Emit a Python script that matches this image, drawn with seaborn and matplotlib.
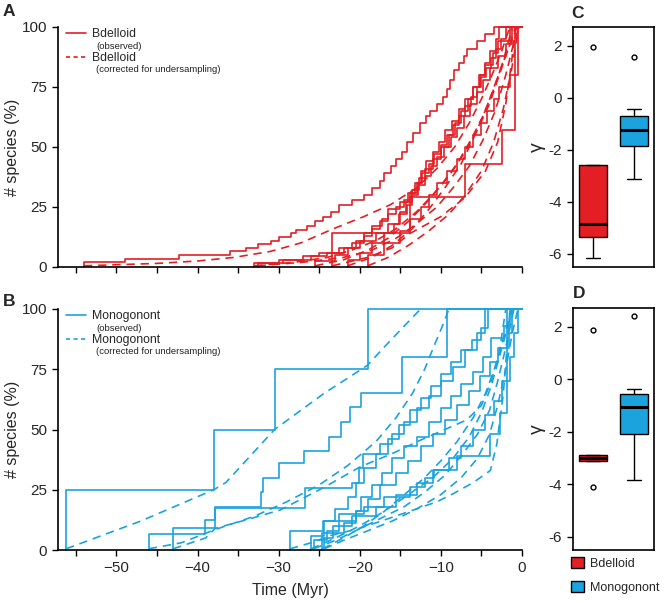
import matplotlib
matplotlib.use("Agg")
import matplotlib.pyplot as plt
from matplotlib.lines import Line2D
from matplotlib.patches import Patch
import numpy as np
import pandas as pd
import seaborn as sns

sns.set_theme(style="ticks")
plt.rcParams['font.family'] = ['Liberation Sans', 'DejaVu Sans']

RED = '#E31E24'
BLUE = '#1BA3DE'

# -----------------------------
# Lineage-through-time data (time in Myr, % species)
# -----------------------------
# Bdelloid, observed (step curves)
bd_obs1 = [(-54, 0), (-54, 2), (-49, 3.5), (-42.3, 5), (-36, 6.5), (-34, 8), (-32.6, 9.5), (-31, 11),
           (-30, 12.5), (-28.5, 14), (-27.8, 15.5), (-26.5, 17), (-25.5, 19), (-24.5, 21), (-23.5, 23),
           (-22.5, 26), (-21, 28), (-19.5, 30), (-18.5, 33), (-17.5, 36), (-17, 39), (-16.2, 42),
           (-15.5, 45), (-14.8, 48), (-14.2, 52), (-13.4, 56), (-12.6, 60), (-11.8, 63), (-11.3, 65),
           (-10.5, 68), (-9.8, 71), (-9.3, 74), (-8.9, 78), (-8.4, 82), (-7.8, 85), (-7.2, 88),
           (-6.8, 91), (-5.5, 94), (-4.5, 97), (-3.4, 100), (0, 100)]
bd_obs2 = [(-23.4, 0), (-23.4, 14), (-13.8, 29), (-7, 43), (-2.5, 57), (-0.9, 100), (0, 100)]
bd_obs3 = [(-33, 0), (-33, 1.5), (-29.5, 3), (-26, 4.5), (-24, 6), (-22.5, 8), (-21, 10), (-19.5, 13),
           (-18.5, 16), (-17.5, 19), (-16.5, 22), (-15.5, 25), (-14.5, 28), (-13.8, 31), (-13, 35),
           (-12.3, 39), (-11.5, 43), (-10.8, 47), (-10, 51), (-9.3, 55), (-8.5, 59), (-7.8, 63),
           (-7, 67), (-6.3, 71), (-5.6, 75), (-5, 79), (-4.4, 83), (-3.8, 87), (-3.2, 91),
           (-2.6, 95), (-2, 100), (0, 100)]
bd_obs4 = [(-25.5, 0), (-25.5, 2.5), (-23, 5), (-21.5, 8), (-20.5, 11), (-19.5, 14), (-18.5, 17),
           (-17.3, 20), (-16.5, 24), (-15, 27), (-14, 31), (-13.2, 35), (-12.5, 40), (-11.8, 44),
           (-11, 48), (-10.2, 52), (-9.5, 57), (-8.6, 61), (-7.8, 66), (-7, 70), (-6, 75),
           (-5.2, 80), (-4.5, 84), (-3.6, 89), (-3, 94), (-1.5, 100), (0, 100)]
bd_obs5 = [(-21.5, 0), (-21.5, 3), (-20, 6), (-18.5, 10), (-17, 14), (-15.8, 18), (-15, 23),
           (-14.3, 27), (-13.5, 32), (-12.7, 37), (-12, 41), (-11, 45), (-10, 50), (-9, 55),
           (-8.3, 60), (-7.5, 65), (-6.7, 70), (-6, 75), (-5.3, 80), (-4.6, 85), (-3.9, 90),
           (-3.2, 95), (-2.8, 100), (0, 100)]
bd_obs6 = [(-32.6, 0), (-32.6, 1.5), (-30, 3), (-27, 4.5), (-25, 6), (-22, 8), (-20, 11), (-18, 14),
           (-16.5, 18), (-15.2, 22), (-14.2, 26), (-13.5, 30), (-12.8, 34), (-12, 38), (-11.2, 42),
           (-10.5, 46), (-9.6, 50), (-8.8, 54), (-8, 58), (-7.2, 63), (-6.4, 68), (-5.6, 73),
           (-4.8, 78), (-4, 83), (-3, 88), (-2, 93), (-1.2, 100), (0, 100)]
bd_obs7 = [(-19, 0), (-19, 5), (-17, 10), (-15, 15), (-13.8, 20), (-12.5, 25), (-11.5, 30),
           (-10.5, 35), (-9.2, 40), (-8, 45), (-7, 50), (-6, 55), (-5, 60), (-4.3, 65), (-3.5, 70),
           (-2.8, 75), (-1.5, 80), (-0.5, 100), (0, 100)]

# Bdelloid, corrected for undersampling
bd_cor1 = [(-54, 0.5), (-45, 1.5), (-40, 2.5), (-35.5, 4), (-31, 6.5), (-27.3, 10), (-23.2, 16),
           (-19.5, 21), (-16.2, 26), (-13, 33), (-10.5, 41), (-8.3, 50), (-6.5, 60), (-5, 70),
           (-3.7, 80), (-2.5, 90), (-1.5, 100)]
bd_cor2 = [(-23.4, 0.5), (-19, 4), (-16, 8), (-13.8, 14), (-10, 21), (-7, 29), (-4.5, 40), (-3, 52),
           (-2, 68), (-1.3, 85), (-0.8, 100)]
bd_cor3 = [(-33, 0.5), (-28, 2), (-24, 4), (-21, 7), (-18, 11), (-15.5, 16), (-13, 23), (-11, 30),
           (-9, 38), (-7.2, 47), (-5.5, 57), (-4, 68), (-2.8, 80), (-1.8, 90), (-0.8, 100)]
bd_cor4 = [(-25.5, 0.5), (-22, 3), (-19, 7), (-16.5, 12), (-14, 19), (-12, 26), (-10, 34), (-8, 43),
           (-6.3, 53), (-4.8, 63), (-3.5, 74), (-2.3, 86), (-1.2, 100)]
bd_cor5 = [(-21.5, 0.5), (-18.5, 4), (-16, 9), (-13.5, 16), (-11.5, 24), (-9.5, 33), (-7.5, 43),
           (-5.8, 55), (-4.3, 67), (-3, 79), (-1.8, 90), (-0.6, 100)]
bd_cor6 = [(-32.6, 0.5), (-27, 2), (-22, 4), (-18.5, 7), (-15.5, 12), (-13, 18), (-10.5, 25),
           (-8.5, 33), (-6.5, 42), (-4.8, 53), (-3.3, 65), (-2, 80), (-0.9, 95), (-0.3, 100)]
bd_cor7 = [(-19, 0.5), (-16.5, 4), (-14, 9), (-11.5, 15), (-9, 22), (-7, 30), (-5, 40), (-3.5, 52),
           (-2.3, 66), (-1.3, 82), (-0.4, 100)]

# Monogonont, observed
mo_obs1 = [(-56.2, 0), (-56.2, 25), (-38, 50), (-30.5, 75), (-19, 100), (0, 100)]
mo_obs2 = [(-46, 0), (-46, 6.5), (-39.1, 12.5), (-37.8, 18), (-32.2, 24), (-31.9, 30), (-30, 36),
           (-26.9, 41), (-23.8, 47), (-22.3, 53), (-21.2, 59.5), (-19.8, 65), (-14.8, 80),
           (-9.3, 100), (0, 100)]
mo_obs3 = [(-43, 0), (-43, 9), (-37.8, 17.5), (-26.7, 25.6), (-21, 28), (-20.1, 34), (-19.6, 40),
           (-17.5, 44), (-16, 48), (-14.5, 53), (-13, 59), (-11.5, 64), (-10, 70), (-8.5, 76),
           (-7, 83), (-5.5, 90), (-4.6, 100), (0, 100)]
mo_obs4 = [(-28.6, 0), (-28.6, 8), (-24.5, 12), (-22.5, 15), (-19.5, 18), (-17, 22), (-13.8, 26),
           (-12, 30), (-10.9, 33), (-8, 39), (-3.9, 48), (-2.7, 57), (-1.9, 100), (0, 100)]
mo_obs5 = [(-26, 0), (-26, 6), (-24.4, 12), (-23, 17), (-21.5, 22), (-20.5, 28), (-19.5, 34),
           (-18, 40), (-16.5, 46), (-15.2, 52), (-13.8, 58), (-12.5, 63), (-11.2, 68), (-10, 73),
           (-8.8, 78), (-7.5, 83), (-6.2, 87), (-5, 92), (-4.2, 100), (0, 100)]
mo_obs6 = [(-25.7, 0), (-25.7, 4), (-24, 8), (-22.5, 12), (-20.5, 16), (-19, 21), (-17.5, 27),
           (-15.5, 32), (-14, 37), (-12.5, 43), (-11, 48), (-9.5, 54), (-8, 60), (-6.5, 66),
           (-5.2, 72), (-4, 78), (-3, 84), (-1.6, 90), (-1.2, 100), (0, 100)]
mo_obs7 = [(-24.4, 0), (-24.4, 5), (-23.3, 10), (-21, 14), (-18, 18), (-15.5, 23), (-13, 28),
           (-11, 33), (-9, 38), (-7.5, 43), (-6, 50), (-4.5, 56), (-3.5, 62), (-2.5, 70),
           (-1.5, 80), (-1, 90), (-0.5, 100), (0, 100)]
mo_obs8 = [(-24.6, 0), (-24.6, 7), (-22, 11), (-20.5, 16), (-19.8, 22), (-18.5, 27), (-17.2, 32),
           (-16, 38), (-14.5, 43), (-13, 47), (-11.5, 53), (-10, 59), (-8.8, 64), (-7.5, 69),
           (-6, 74), (-4.8, 80), (-3.8, 88), (-2.2, 93), (-1.5, 100), (0, 100)]

# Monogonont, corrected for undersampling
mo_cor1 = [(-56.2, 0.5), (-47, 12), (-38, 25), (-36.5, 28), (-30.5, 50), (-24.4, 65), (-19.1, 76.5),
           (-16.2, 87), (-12.5, 100)]
mo_cor2 = [(-46, 0.5), (-42, 3), (-37.8, 8.5), (-33, 14), (-29, 20), (-25, 27), (-21.5, 35),
           (-18, 45), (-15.5, 55), (-13.5, 65), (-12, 75), (-10.8, 85), (-9.8, 93), (-9, 100)]
mo_cor3 = [(-43, 0.5), (-39, 5), (-37.8, 9), (-34, 12.5), (-29.8, 16.6), (-24.4, 26), (-19.9, 34.6),
           (-16, 40), (-12.5, 45.6), (-9.5, 50), (-6.8, 54), (-5, 60), (-3.8, 70), (-2.8, 82),
           (-2, 100)]
mo_cor4 = [(-28.6, 0.5), (-26, 3), (-23.6, 6), (-20, 9), (-16.5, 13), (-13.4, 16.6), (-10.5, 20),
           (-8.4, 23.5), (-6, 28), (-3.9, 33), (-3.1, 44), (-2.3, 65), (-1.5, 99)]
mo_cor5 = [(-26, 0.5), (-23, 5), (-20, 10), (-17, 16), (-14, 23), (-11, 30), (-8.5, 38), (-6.5, 47),
           (-5, 57), (-3.8, 68), (-2.8, 80), (-1.8, 92), (-1.2, 100)]
mo_cor6 = [(-25.7, 0.5), (-23, 4), (-20.5, 8), (-17.5, 13), (-14.5, 18), (-12, 24), (-9.5, 31),
           (-7.5, 39), (-5.5, 48), (-4, 58), (-3, 70), (-2, 84), (-1, 100)]
mo_cor7 = [(-24.4, 0.5), (-22, 4), (-19, 8), (-16, 12), (-13, 17), (-10, 23), (-7.5, 30),
           (-5.5, 38), (-4, 48), (-3, 60), (-2, 75), (-1.2, 90), (-0.5, 100)]
mo_cor8 = [(-24.6, 0.5), (-22, 5), (-19.5, 10), (-17, 16), (-14.5, 23), (-12, 30), (-10, 37),
           (-8, 45), (-6, 55), (-4.5, 65), (-3.2, 77), (-2.2, 89), (-1.3, 100)]

# -----------------------------
# Gamma statistic values (box plots C and D)
# -----------------------------
c_bdelloid = [-6.15, -5.6, -5.33, -5.0, -4.83, -3.5, -2.6, -2.6, 1.97]
c_monogonont = [-3.12, -2.2, -1.85, -1.5, -1.25, -0.9, -0.7, -0.44, 1.55]
d_bdelloid = [-4.1, -3.1, -3.1, -3.05, -3.0, -2.95, -2.87, -2.87, 1.88]
d_monogonont = [-3.83, -2.6, -2.08, -1.5, -1.05, -0.7, -0.55, -0.38, 2.4]

time_ticks = [-55, -50, -45, -40, -35, -30, -25, -20, -15, -10, -5, 0]
time_labels = ['', '\u221250', '', '\u221240', '', '\u221230', '', '\u221220', '', '\u221210', '', '0']
pct_ticks = [0, 25, 50, 75, 100]
gamma_ticks = [2, 0, -2, -4, -6]
gamma_labels = ['2', '0', '-2', '-4', '-6']


def curves_frame(curves):
    rows = []
    for i, c in enumerate(curves):
        for t, p in c:
            rows.append({'t': t, 'p': p, 'curve': i})
    return pd.DataFrame(rows)


fig = plt.figure(figsize=(6.66, 6.03), dpi=100)


def px_axes(l, t, r, b):
    return fig.add_axes([l / 666, 1 - b / 603, (r - l) / 666, (b - t) / 603])


ax_a = px_axes(58, 27, 522, 267)
ax_b = px_axes(58, 309, 522, 550)
ax_c = px_axes(573, 27, 654, 267)
ax_d = px_axes(573, 308, 654, 550)

DASH = (0, (5, 3.5))

panels = [
    (ax_a, [bd_obs1, bd_obs2, bd_obs3, bd_obs4, bd_obs5, bd_obs6, bd_obs7],
     [bd_cor1, bd_cor2, bd_cor3, bd_cor4, bd_cor5, bd_cor6, bd_cor7], RED, 'Bdelloid'),
    (ax_b, [mo_obs1, mo_obs2, mo_obs3, mo_obs4, mo_obs5, mo_obs6, mo_obs7, mo_obs8],
     [mo_cor1, mo_cor2, mo_cor3, mo_cor4, mo_cor5, mo_cor6, mo_cor7, mo_cor8], BLUE, 'Monogonont'),
]

for ax, obs, cor, col, name in panels:
    sns.lineplot(data=curves_frame(cor), x='t', y='p', units='curve', estimator=None,
                 sort=False, color=col, lw=1.2, linestyle=DASH, legend=False, ax=ax, clip_on=False)
    sns.lineplot(data=curves_frame(obs), x='t', y='p', units='curve', estimator=None,
                 sort=False, color=col, lw=1.2, drawstyle='steps-post', legend=False, ax=ax,
                 clip_on=False)
    ax.set_xlim(-57.2, 0)
    ax.set_ylim(0, 100)
    ax.set_yticks(pct_ticks)
    ax.set_xticks(time_ticks)
    ax.set_ylabel('# species (%)', fontsize=11.5)
    ax.yaxis.set_label_coords(-0.082, 0.5)
    ax.tick_params(axis='both', labelsize=11, length=4.5, width=1, direction='out', color='black')
    sns.despine(ax=ax)
    for s in ['left', 'bottom']:
        ax.spines[s].set_linewidth(1.2)
        ax.spines[s].set_color('black')

    handles = [Line2D([], [], color=col, lw=1.2),
               Line2D([], [], color=col, lw=1.2, linestyle=(0, (2.5, 2)))]
    leg = ax.legend(handles, [name, name], loc='upper left', bbox_to_anchor=(0.018, 0.995),
                    frameon=False, fontsize=8.8, handlelength=1.6, handletextpad=0.5,
                    labelspacing=0.95, borderpad=0, borderaxespad=0)
    subs = ['(observed)', '(corrected for undersampling)']
    for txt, sub in zip(leg.get_texts(), subs):
        ax.annotate(sub, xy=(0, 0), xycoords=txt, xytext=(3, -1.2), textcoords='offset points',
                    va='top', ha='left', fontsize=6.8, color='#222222', zorder=10)

ax_a.set_xticklabels([])
ax_a.set_xlabel('')
ax_b.set_xticklabels(time_labels)
ax_b.set_xlabel('Time (Myr)', fontsize=11.5, labelpad=6)

# -----------------------------
# Box plots of gamma
# -----------------------------
pal = {'Bdelloid': RED, 'Monogonont': BLUE}
for ax, bd, mo in [(ax_c, c_bdelloid, c_monogonont), (ax_d, d_bdelloid, d_monogonont)]:
    df = pd.DataFrame({'group': ['Bdelloid'] * len(bd) + ['Monogonont'] * len(mo),
                       'gamma': bd + mo})
    sns.boxplot(data=df, x='group', y='gamma', hue='group', palette=pal, saturation=1,
                width=0.7, linecolor='black', linewidth=1, legend=False, ax=ax,
                medianprops={'linewidth': 2.2, 'color': 'black'},
                flierprops={'marker': 'o', 'markersize': 3.5, 'markerfacecolor': 'none',
                            'markeredgecolor': 'black', 'markeredgewidth': 1})
    ax.set_xlim(-0.5, 1.5)
    ax.set_ylim(-6.5, 2.72)
    ax.set_xticks([])
    ax.set_xlabel('')
    ax.set_yticks(gamma_ticks)
    ax.set_yticklabels(gamma_labels)
    ax.set_ylabel('\u03b3', fontsize=14, labelpad=2)
    ax.tick_params(axis='y', labelsize=11, length=4.5, width=1, direction='out', color='black')
    for s in ax.spines.values():
        s.set_linewidth(1.2)
        s.set_color('black')

leg_handles = [Patch(facecolor=RED, edgecolor='black', lw=1),
               Patch(facecolor=BLUE, edgecolor='black', lw=1)]
fig.legend(leg_handles, ['Bdelloid', 'Monogonont'], loc='upper left',
           bbox_to_anchor=(571 / 666, 1 - 557 / 603), frameon=False, fontsize=9,
           handlelength=1.0, handleheight=1.0, handletextpad=0.5, labelspacing=0.9,
           borderpad=0, borderaxespad=0)

for letter, x, y in [('A', 9, 12), ('B', 9, 301), ('C', 578, 13), ('D', 579, 293)]:
    fig.text(x / 666, 1 - y / 603, letter, fontsize=12.5, fontweight='bold', ha='center', va='center')

fig.savefig('out.png', dpi=100, facecolor='white')
